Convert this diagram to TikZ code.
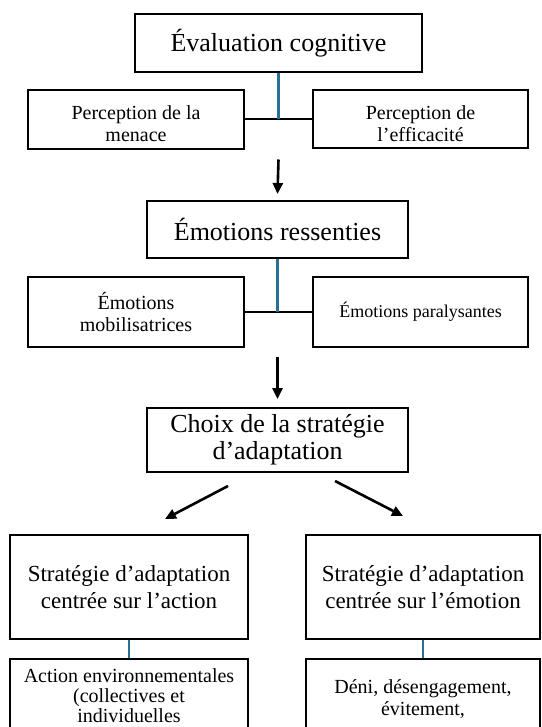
\documentclass[tikz,border=0pt]{standalone}
\usepackage{fontspec}
\setmainfont{Liberation Serif}
\usepackage{xcolor}
\usepackage{tikz}
\usetikzlibrary{positioning, arrows.meta, calc}

\definecolor{linkblue}{RGB}{40,112,150}

\begin{document}
\begin{tikzpicture}[
        x=1pt, y=1pt,
        box/.style={draw, line width=2pt, align=center, inner sep=0pt},
        big/.style={font=\fontsize{26}{27}\selectfont},
        mid/.style={font=\fontsize{23}{27}\selectfont},
        small/.style={font=\fontsize{20}{22}\selectfont},
        link/.style={linkblue, line width=2.2pt},
        bar/.style={black, line width=2pt},
        flow/.style={-{Triangle[width=10pt, length=11pt]}, line width=2.6pt},
    ]
    \useasboundingbox (0,0) rectangle (541,-727);
    \clip (0,0) rectangle (541,-727);

    % Appraisal
    \node[box, big, minimum width=287, minimum height=58] (eval) at (278.5,-43) {Évaluation cognitive};
    \node[box, small, minimum width=216, minimum height=59] (menace) at (136,-119.5) {\rule{0pt}{22pt}Perception de la\\menace};
    \node[box, small, minimum width=215, minimum height=58] (effic) at (420.5,-119.5) {\rule{0pt}{22pt}Perception de\\l’efficacité};

    \coordinate (j1) at (eval.south |- menace.east);
    \draw[bar] (menace.east) -- (effic.west);
    \draw[link] (eval.south) -- (j1);

    % Emotions
    \node[box, big, minimum width=261, minimum height=57] (emo) at (277.5,-229.5) {Émotions ressenties};
    \node[box, small, minimum width=216, minimum height=70] (mobil) at (136,-312) {Émotions\\mobilisatrices};
    \node[box, small, font=\fontsize{18}{22}\selectfont, minimum width=215, minimum height=70] (paral) at (420.5,-312) {Émotions paralysantes};

    \coordinate (j2) at (emo.south |- mobil.east);
    \draw[bar] (mobil.east) -- (paral.west);
    \draw[link] (emo.south) -- (j2);

    \draw[flow] ([yshift=-40pt]j1) -- ([yshift=6pt]emo.north);

    % Choice of strategy
    \node[box, big, minimum width=261, minimum height=64] (choix) at (277.5,-440) {Choix de la stratégie\\d’adaptation};
    \draw[flow] ([yshift=-45pt]j2) -- ([yshift=8pt]choix.north);

    \node[box, mid, minimum width=238, minimum height=104] (stract) at (129,-587) {Stratégie d’adaptation\\centrée sur l’action};
    \node[box, mid, minimum width=234, minimum height=104] (stremo) at (423,-587) {Stratégie d’adaptation\\centrée sur l’émotion};

    \draw[flow] ([xshift=-49.5pt, yshift=-13pt]choix.south) -- ([xshift=36pt, yshift=15pt]stract.north);
    \draw[flow] ([xshift=57.5pt, yshift=-8pt]choix.south) -- ([xshift=-20pt, yshift=18pt]stremo.north);

    % Examples (cut at the bottom)
    \node[box, anchor=north, minimum width=238, minimum height=120] (leafact) at (129,-658) {};
    \node[box, anchor=north, minimum width=234, minimum height=120] (leafemo) at (423,-658) {};
    \draw[link] (stract.south) -- (leafact.north);
    \draw[link] (stremo.south) -- (leafemo.north);

    \node[small, align=center, inner sep=0pt, anchor=north, font=\fontsize{20}{20}\selectfont] (acttxt) at ([yshift=-10.5pt]leafact.north) {Action environnementales\\(collectives et\\individuelles};
    \node[small, align=center, inner sep=0pt, anchor=north] (emotxt) at ([yshift=-21pt]leafemo.north) {Déni, désengagement,\\évitement,};

\end{tikzpicture}
\end{document}
